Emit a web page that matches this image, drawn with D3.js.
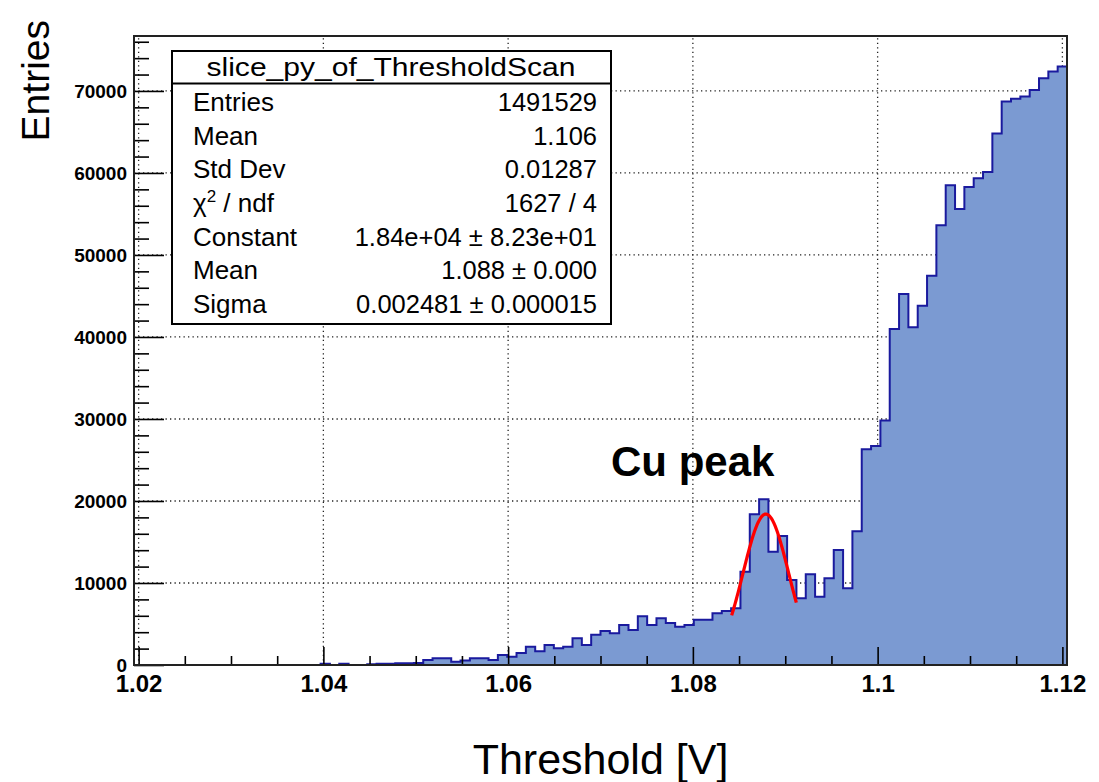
<!DOCTYPE html>
<html>
<head>
<meta charset="utf-8">
<script src="https://cdn.jsdelivr.net/npm/d3@7"></script>
<style>
  body { margin: 0; background: #fff; }
  text { font-family: "Liberation Sans", Arial, Helvetica, sans-serif; }
</style>
</head>
<body>
<script>
var w = 1099;
var h = 782;

// histogram: 100 bins over the full axis range
var xMin = 1.0195;
var xMax = 1.1205;
var counts = [
    0, 0, 0, 0, 0, 0, 0, 0, 0, 0,
    0, 0, 0, 0, 0, 0, 0, 0, 0, 0,
    150, 0, 150, 0, 0, 100, 150, 150, 200, 200,
    250, 600, 810, 810, 410, 560, 810, 810, 610, 1220,
    1020, 1460, 2240, 1670, 2440, 2030, 2240, 3250, 2440, 3700,
    4150, 3860, 4880, 4270, 5930, 4880, 5690, 5120, 4670, 4880,
    5530, 5530, 6300, 6590, 6910, 11380, 18370, 20200, 13820, 15730,
    10370, 8130, 11060, 8330, 10570, 14020, 9350, 16300, 26300, 26700,
    29800, 40980, 45240, 41180, 43820, 47480, 53620, 58500, 55610, 58290,
    59350, 60120, 64800, 68700, 69060, 69310, 70120, 71540, 72360, 72970
];

// gaus fit: constant, mean, sigma and the fitted range
var fitParams = [18400, 1.0879, 0.002481];
var fitRange = [1.0842, 1.0912];

var xTicks = [1.02, 1.04, 1.06, 1.08, 1.1, 1.12];
var xTickLabels = ["1.02", "1.04", "1.06", "1.08", "1.1", "1.12"];
var xMinorTicks = [1.025, 1.03, 1.035, 1.045, 1.05, 1.055, 1.065, 1.07, 1.075,
    1.085, 1.09, 1.095, 1.105, 1.11, 1.115];
var yMax = 76700;
var yTicks = [0, 10000, 20000, 30000, 40000, 50000, 60000, 70000];
var yMinorTicks = [];
for (var v = 2000; v <= 76000; v += 2000) { if (v % 10000 !== 0) yMinorTicks.push(v); }

var statsTitle = "slice_py_of_ThresholdScan";
var statsNames = ["Entries", "Mean", "Std Dev", "chi2", "Constant", "Mean", "Sigma"];
var statsValues = ["1491529", "1.106", "0.01287", "1627 / 4",
    "1.84e+04 \u00b1 8.23e+01", "1.088 \u00b1 0.000", "0.002481 \u00b1 0.000015"];

// frame of the pad (note: "top" is reserved on window)
var padL = 134, padR = 1067, padT = 36, padB = 665;

var svg = d3.select("body")
    .append("svg")
    .attr("width", w)
    .attr("height", h);

svg.append("rect").attr("width", w).attr("height", h).attr("fill", "#fff");

var x = d3.scaleLinear().domain([xMin, xMax]).range([padL, padR]);
var y = d3.scaleLinear().domain([0, yMax]).range([padB, padT]);

// grid
var grid = svg.append("g")
    .attr("stroke", "#222")
    .attr("stroke-width", 1.3)
    .attr("stroke-dasharray", "1.3,3.2");
grid.selectAll(".gx").data(xTicks).enter().append("line")
    .attr("x1", function(d) { return x(d); }).attr("x2", function(d) { return x(d); })
    .attr("y1", padB).attr("y2", padT);
grid.selectAll(".gy").data(yTicks.slice(1)).enter().append("line")
    .attr("x1", padL).attr("x2", padR)
    .attr("y1", function(d) { return y(d); }).attr("y2", function(d) { return y(d); });

// histogram
var binW = (xMax - xMin) / counts.length;
var steps = counts.map(function(c, i) { return [xMin + i * binW, c]; });
steps.push([xMax, counts[counts.length - 1]]);

svg.append("path")
    .datum(steps)
    .attr("fill", "#7b9ad2")
    .attr("d", d3.area()
        .curve(d3.curveStepAfter)
        .x(function(d) { return x(d[0]); })
        .y0(y(0))
        .y1(function(d) { return y(d[1]); }));

svg.append("path")
    .datum([[xMin, 0]].concat(steps, [[xMax, 0]]))
    .attr("fill", "none")
    .attr("stroke", "#1a1a9e")
    .attr("stroke-width", 2)
    .attr("d", d3.line()
        .curve(d3.curveStepAfter)
        .x(function(d) { return x(d[0]); })
        .y(function(d) { return y(d[1]); }));

// fit curve
var fitPts = d3.range(0, 121).map(function(i) {
    var xv = fitRange[0] + (fitRange[1] - fitRange[0]) * i / 120;
    var z = (xv - fitParams[1]) / fitParams[2];
    return [xv, fitParams[0] * Math.exp(-0.5 * z * z)];
});
svg.append("path")
    .datum(fitPts)
    .attr("fill", "none")
    .attr("stroke", "#ff0000")
    .attr("stroke-width", 3.2)
    .attr("d", d3.line()
        .x(function(d) { return x(d[0]); })
        .y(function(d) { return y(d[1]); }));

// axes
var xAxis = svg.append("g")
    .attr("transform", "translate(0," + padB + ")")
    .call(d3.axisBottom(x).tickValues(xTicks).tickSizeInner(-18).tickSizeOuter(0)
        .tickFormat(function(d, i) { return xTickLabels[i]; }));
xAxis.append("g")
    .call(d3.axisBottom(x).tickValues(xMinorTicks).tickSizeInner(-9).tickSizeOuter(0).tickFormat(""));

var yAxis = svg.append("g")
    .attr("transform", "translate(" + padL + ",0)")
    .call(d3.axisLeft(y).tickValues(yTicks).tickSizeInner(-30).tickSizeOuter(0).tickPadding(7)
        .tickFormat(d3.format("d")));
yAxis.append("g")
    .call(d3.axisLeft(y).tickValues(yMinorTicks).tickSizeInner(-15).tickSizeOuter(0).tickFormat(""));

svg.selectAll(".domain").remove();
svg.selectAll(".tick line").attr("stroke", "#000").attr("stroke-width", 1.6);
svg.selectAll(".tick text")
    .attr("fill", "#000")
    .style("font-weight", "bold")
    .style("font-family", "'Liberation Sans', Arial, sans-serif");
xAxis.selectAll(".tick text").attr("y", 27).attr("dy", 0).style("font-size", "24px");
yAxis.selectAll(".tick text").style("font-size", "19px");

// frame
svg.append("rect")
    .attr("x", padL).attr("y", padT)
    .attr("width", padR - padL).attr("height", padB - padT)
    .attr("fill", "none").attr("stroke", "#222").attr("stroke-width", 2);

// axis titles
svg.append("text")
    .attr("transform", "translate(49,20) rotate(-90)")
    .attr("text-anchor", "end")
    .style("font-size", "39px")
    .text("Entries");

svg.append("text")
    .attr("x", (padL + padR) / 2).attr("y", 774)
    .attr("text-anchor", "middle")
    .style("font-size", "43px")
    .text("Threshold [V]");

// annotation
svg.append("text")
    .attr("x", 611).attr("y", 476)
    .style("font-size", "42px")
    .style("font-weight", "bold")
    .text("Cu peak");

// stats box
var box = svg.append("g");
box.append("rect")
    .attr("x", 172).attr("y", 51).attr("width", 439).attr("height", 273)
    .attr("fill", "#fff").attr("stroke", "#000").attr("stroke-width", 2);
box.append("line")
    .attr("x1", 172).attr("x2", 611).attr("y1", 83.5).attr("y2", 83.5)
    .attr("stroke", "#000").attr("stroke-width", 2);
box.append("text")
    .attr("x", 391).attr("y", 76)
    .attr("text-anchor", "middle")
    .attr("textLength", 369)
    .attr("lengthAdjust", "spacingAndGlyphs")
    .style("font-size", "26px")
    .text(statsTitle);

var rowY = d3.scaleLinear().domain([0, 6]).range([111, 313]);
statsNames.forEach(function(name, i) {
    var t = box.append("text")
        .attr("x", 193).attr("y", rowY(i))
        .style("font-size", "26px");
    if (name === "chi2") {
        t.append("tspan").text("\u03c7");
        t.append("tspan").attr("dy", -10).style("font-size", "17px").text("2");
        t.append("tspan").attr("dy", 10).text(" / ndf");
    } else {
        t.text(name);
    }
    box.append("text")
        .attr("x", 597).attr("y", rowY(i))
        .attr("text-anchor", "end")
        .style("font-size", "25.5px")
        .text(statsValues[i]);
});
</script>
</body>
</html>
